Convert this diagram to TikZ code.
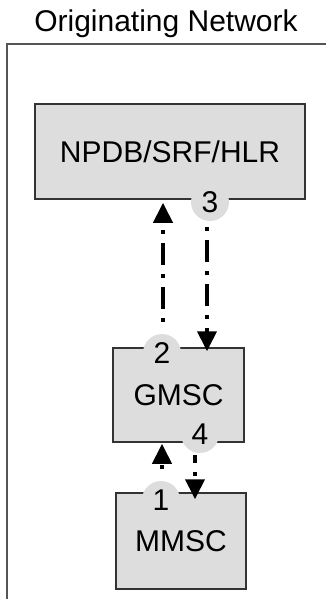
\documentclass[tikz,border=0pt]{standalone}
\usepackage{fontspec}
\setmainfont{Liberation Sans}
\usetikzlibrary{arrows.meta}
\definecolor{boxgray}{HTML}{DDDDDD}
\definecolor{framegray}{HTML}{555555}
\definecolor{edgegray}{HTML}{333333}
\tikzset{
  entity/.style={draw=edgegray, line width=1.5pt, fill=boxgray, inner sep=0pt,
    font=\fontsize{30pt}{36pt}\selectfont},
  stepnum/.style={circle, fill=boxgray, minimum size=38pt, inner sep=0pt,
    font=\fontsize{30pt}{36pt}\selectfont},
  flow/.style={line width=4pt, dash pattern=on 4pt off 9pt on 22pt off 9pt,
    -{Triangle[width=19pt,length=20pt]}},
  framestyle/.style={draw=framegray, line width=2.2pt},
}
\begin{document}
\begin{tikzpicture}[x=1pt,y=-1pt]
\useasboundingbox (0,0) rectangle (325,599);
% title and frame
\node[font=\fontsize{30pt}{36pt}\selectfont] (title) at (166,24) {Originating Network};
\coordinate (ftr) at (340,44);
\coordinate (ftl) at (7,44);
\coordinate (fbl) at (7,610);
\draw[framestyle] (ftr) -- (ftl) -- (fbl);
% boxes
\node[entity, minimum width=270pt, minimum height=95pt] (npdb) at (170,151.5) {\raisebox{-3pt}{NPDB/SRF/HLR}};
\node[entity, minimum width=131pt, minimum height=94pt] (gmsc) at (178.5,395) {\raisebox{-2pt}{GMSC}};
\node[entity, minimum width=130pt, minimum height=96pt] (mmsc) at (181,541) {MMSC};
% step circles
\node[stepnum] (s3) at (210,202) {3};
\node[stepnum] (s2) at (162,353) {2};
\node[stepnum] (s4) at (200,434) {4};
\node[stepnum] (s1) at (161,500) {1};
% arrows
\draw[flow] ([xshift=1pt,yshift=12pt]s2.north) -- ([xshift=1pt,yshift=-3pt]s2.north |- npdb.south);
\draw[flow] ([xshift=-3pt,yshift=-6pt]s3.south) -- ([xshift=-3pt,yshift=-4pt]s3.south |- gmsc.north);
\draw[flow] ([xshift=1pt,yshift=12pt]s1.north) -- ([xshift=1pt,yshift=-1pt]s1.north |- gmsc.south);
\draw[flow, dash phase=27pt] ([xshift=-5pt,yshift=-2pt]s4.south) -- ([xshift=-5pt,yshift=-7pt]s4.south |- mmsc.north);
\end{tikzpicture}
\end{document}
